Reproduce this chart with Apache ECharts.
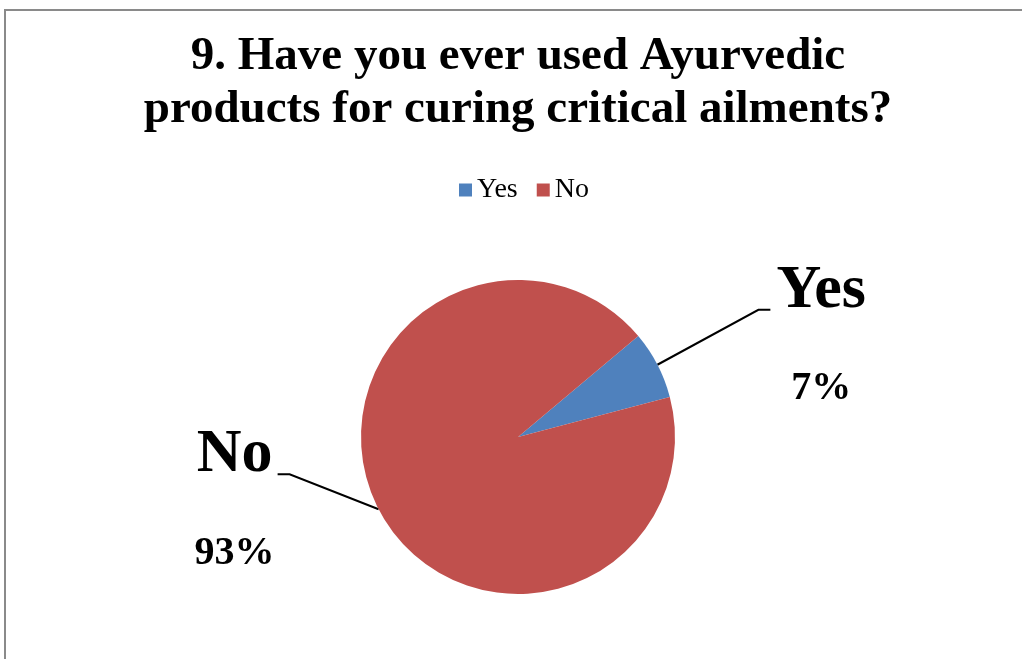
<!DOCTYPE html>
<html>
<head>
<meta charset="utf-8">
<script src="https://cdn.jsdelivr.net/npm/echarts@6/dist/echarts.min.js"></script>
<style>
  html, body { margin: 0; padding: 0; background: #fff; }
  #chart { width: 1022px; height: 659px; }
</style>
</head>
<body>
<div id="chart"></div>
<script>
// Survey answers (share of respondents, %)
const categories = ['Yes', 'No'];
const values = [7, 93];
const colors = ['#4F81BD', '#C0504D'];
const titleText = '9. Have you ever used Ayurvedic\nproducts for curing critical ailments?';

const PIE_CENTER = [518, 437];
const PIE_RADIUS = 157;
const START_ANGLE = 40;
const SERIF = '"Liberation Serif", "Times New Roman", serif';

// Elbow of each leader line, relative to where it leaves the rim
const kneeOffset = { Yes: [101, -55], No: [-89, -35] };
const tailLength = 12;
const labelGap = { Yes: 6, No: 3 };

const total = values.reduce((a, b) => a + b, 0);
function rimPoint(idx) {
  let before = 0;
  for (let i = 0; i < idx; i++) before += values[i];
  const mid = (START_ANGLE - (before + values[idx] / 2) / total * 360) * Math.PI / 180;
  return [PIE_CENTER[0] + PIE_RADIUS * Math.cos(mid), PIE_CENTER[1] - PIE_RADIUS * Math.sin(mid)];
}

const chart = echarts.init(document.getElementById('chart'));
chart.setOption({
  backgroundColor: '#fff',
  animation: false,
  title: {
    text: titleText,
    left: 518,
    top: 30,
    padding: 0,
    textAlign: 'center',
    textStyle: {
      fontFamily: SERIF,
      fontWeight: 'bold',
      fontSize: 47,
      lineHeight: 53,
      color: '#000'
    }
  },
  legend: {
    data: categories,
    top: 171,
    left: 454,
    icon: 'rect',
    itemWidth: 13,
    itemHeight: 13,
    itemGap: 19,
    textStyle: { fontFamily: SERIF, fontSize: 28, color: '#000' }
  },
  graphic: [{
    type: 'rect',
    shape: { x: 5, y: 10, width: 1200, height: 900 },
    style: { fill: 'none', stroke: '#8a8a8a', lineWidth: 2 },
    silent: true
  }],
  series: [{
    type: 'pie',
    center: PIE_CENTER,
    radius: PIE_RADIUS,
    startAngle: START_ANGLE,
    clockwise: true,
    avoidLabelOverlap: false,
    data: categories.map((name, i) => ({
      name,
      value: values[i],
      itemStyle: { color: colors[i] }
    })),
    label: {
      show: true,
      position: 'outside',
      formatter: p => '{n|' + p.name + '}\n{p|' + Math.round(p.percent) + '%}',
      rich: {
        n: { fontFamily: SERIF, fontWeight: 'bold', fontSize: 62, lineHeight: 70, color: '#000', align: 'center' },
        p: { fontFamily: SERIF, fontWeight: 'bold', fontSize: 40, lineHeight: 126, color: '#000', align: 'center' }
      }
    },
    labelLine: {
      show: true,
      length: 100,
      length2: 12,
      lineStyle: { color: '#000', width: 2 }
    },
    labelLayout: function (params) {
      const idx = params.dataIndex;
      const name = categories[idx];
      const a = rimPoint(idx);
      const off = kneeOffset[name];
      const knee = [a[0] + off[0], a[1] + off[1]];
      const dir = off[0] >= 0 ? 1 : -1;
      const end = [knee[0] + dir * tailLength, knee[1]];
      const w = params.labelRect.width;
      return {
        x: end[0] + dir * (labelGap[name] + w / 2),
        y: end[1] - 54,
        align: 'center',
        verticalAlign: 'top',
        labelLinePoints: [a, knee, end]
      };
    }
  }]
});
</script>
</body>
</html>
